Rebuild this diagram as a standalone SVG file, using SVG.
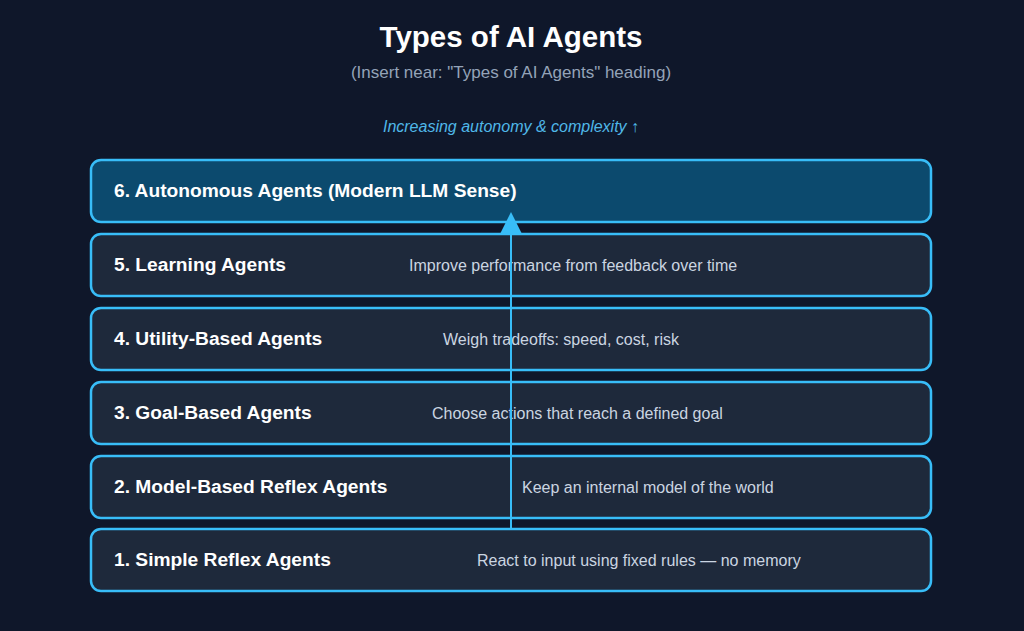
<svg xmlns="http://www.w3.org/2000/svg" width="1024" height="631" viewBox="0 0 1024 631">
<defs>
<style>
.box{fill:#1e293b;stroke:#38bdf8;stroke-width:2.5}
.hl{fill:#0c4a6e}
.t{font-family:"Liberation Sans",Arial,sans-serif;font-size:19.2px;font-weight:bold;fill:#ffffff}
.d{font-family:"Liberation Sans",Arial,sans-serif;font-size:16px;fill:#cbd5e1}
</style>
</defs>
<rect width="1024" height="631" fill="#0f172a"/>
<text x="511" y="47" text-anchor="middle" font-family="Liberation Sans,Arial,sans-serif" font-size="29.5" font-weight="bold" fill="#ffffff">Types of AI Agents</text>
<text x="511" y="78" text-anchor="middle" font-family="Liberation Sans,Arial,sans-serif" font-size="17" fill="#94a3b8">(Insert near: "Types of AI Agents" heading)</text>
<text x="511" y="132" text-anchor="middle" font-family="Liberation Sans,Arial,sans-serif" font-size="16" font-style="italic" fill="#4fb8e8">Increasing autonomy &amp; complexity ↑</text>
<g id="agent6"><rect class="box hl" x="91" y="160" width="840" height="62" rx="10"/><text class="t" x="114" y="197">6. Autonomous Agents (Modern LLM Sense)</text></g>
<g id="agent5"><rect class="box" x="91" y="234" width="840" height="62" rx="10"/><text class="t" x="114" y="271">5. Learning Agents</text><text class="d" x="409" y="271">Improve performance from feedback over time</text></g>
<g id="agent4"><rect class="box" x="91" y="308" width="840" height="62" rx="10"/><text class="t" x="114" y="345">4. Utility-Based Agents</text><text class="d" x="443" y="345">Weigh tradeoffs: speed, cost, risk</text></g>
<g id="agent3"><rect class="box" x="91" y="382" width="840" height="62" rx="10"/><text class="t" x="114" y="419">3. Goal-Based Agents</text><text class="d" x="432" y="419">Choose actions that reach a defined goal</text></g>
<g id="agent2"><rect class="box" x="91" y="456" width="840" height="62" rx="10"/><text class="t" x="114" y="493">2. Model-Based Reflex Agents</text><text class="d" x="522" y="493">Keep an internal model of the world</text></g>
<g id="agent1"><rect class="box" x="91" y="529" width="840" height="62" rx="10"/><text class="t" x="114" y="566">1. Simple Reflex Agents</text><text class="d" x="477" y="566">React to input using fixed rules — no memory</text></g>
<g id="connectors">
<line x1="511" y1="528" x2="511" y2="233" stroke="#38bdf8" stroke-width="2"/>
<path d="M511,212 L522,234 L500,234 Z" fill="#38bdf8"/>
</g>
</svg>
